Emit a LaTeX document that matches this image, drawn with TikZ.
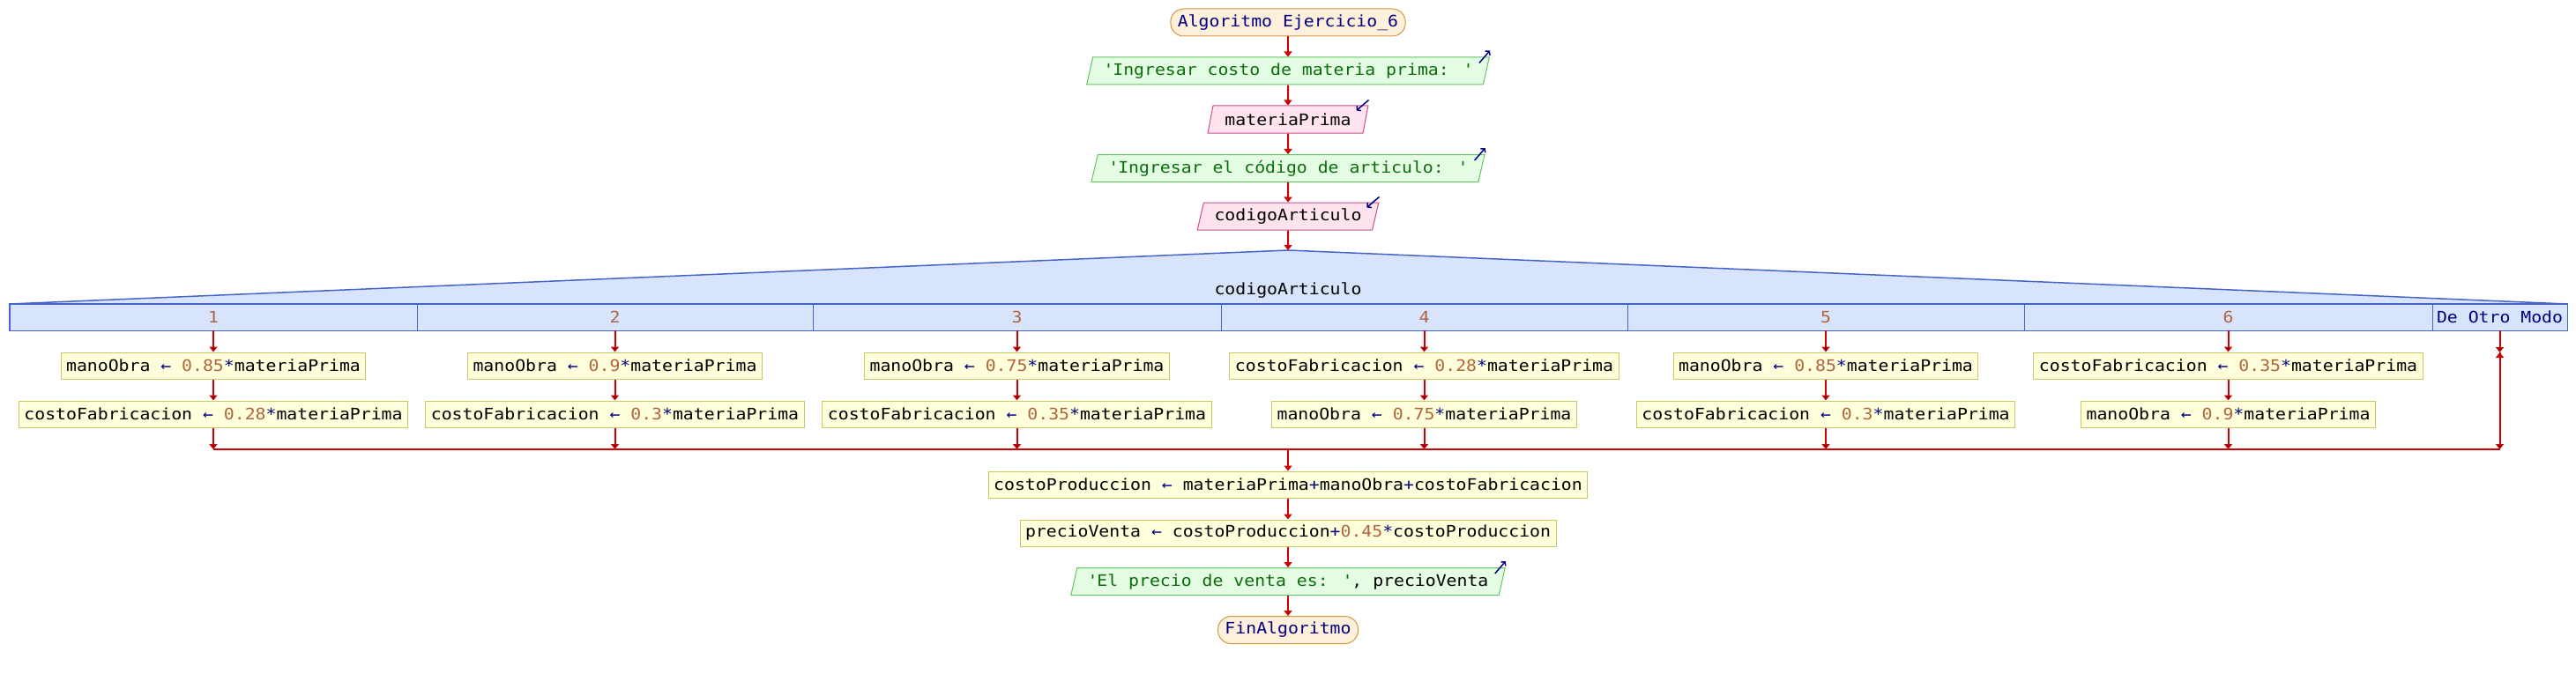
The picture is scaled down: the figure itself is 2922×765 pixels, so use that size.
\documentclass[tikz,border=0pt]{standalone}
\usepackage{fontspec}
\newfontfamily\pseint[FakeStretch=1.1]{DejaVu Sans Mono}
\usetikzlibrary{shapes.geometric,arrows.meta}

\definecolor{rojo}{HTML}{CC0000}
\definecolor{azul}{HTML}{000080}
\definecolor{numero}{HTML}{B0643C}
\definecolor{verde}{HTML}{0A6E0A}
\definecolor{procFondo}{HTML}{FFFFDC}
\definecolor{procBorde}{HTML}{C8C864}
\definecolor{salFondo}{HTML}{E4FCE4}
\definecolor{salBorde}{HTML}{64C464}
\definecolor{entFondo}{HTML}{FFE4F0}
\definecolor{entBorde}{HTML}{C8508C}
\definecolor{segFondo}{HTML}{D8E4FC}
\definecolor{segBorde}{HTML}{4664C8}
\definecolor{termFondo}{HTML}{FFF0DC}
\definecolor{termBorde}{HTML}{D2963C}

\newcommand{\asig}{\textcolor{azul}{←}}
\newcommand{\num}[1]{\textcolor{numero}{#1}}
\newcommand{\op}[1]{\textcolor{azul}{#1}}
\newcommand{\cad}[1]{\textcolor{verde}{#1}}
\def\q{\textquotesingle}

\begin{document}
\begin{tikzpicture}[x=1pt,y=-1pt,font=\pseint\fontsize{18}{20}\selectfont,>={Triangle[width=9pt,length=6pt]}]
			\tikzstyle{terminal}=[rectangle,rounded corners=15pt,draw=termBorde,fill=termFondo,line width=1pt,minimum height=31pt,inner xsep=8pt,inner ysep=0pt,text=azul]
			\tikzstyle{proceso}=[rectangle,draw=procBorde,fill=procFondo,line width=1pt,minimum height=30pt,inner xsep=6pt,inner ysep=0pt]
			\tikzstyle{salida}=[trapezium,trapezium stretches=true,trapezium left angle=69,trapezium right angle=111,draw=salBorde,fill=salFondo,line width=1pt,minimum height=31pt,inner xsep=6pt,inner ysep=0pt]
			\tikzstyle{entrada}=[salida,draw=entBorde,fill=entFondo]
			\tikzstyle{caso}=[rectangle,draw=segBorde,fill=segFondo,line width=0.8pt,minimum height=30pt,inner sep=0pt,text=numero]
			\tikzstyle{flecha}=[->,draw=rojo,line width=2pt]
			\tikzstyle{marca}=[draw=azul,line width=1.5pt,-{Straight Barb[length=3pt,width=7pt]}]
			\def\eje{1461}
			\useasboundingbox (0,0) rectangle (2922,765);
			% secuencia inicial
			\node[terminal](inicio) at (\eje,25.5){Algoritmo Ejercicio\_6};
			\node[salida,minimum width=458pt](s1) at (\eje,80.5){\cad{\q Ingresar costo de materia prima: \q}};
			\node[entrada,minimum width=182pt](e1) at (\eje,135.5){materiaPrima};
			\node[salida,minimum width=447pt](s2) at (\eje,191){\cad{\q Ingresar el código de articulo: \q}};
			\node[entrada,minimum width=206pt](e2) at (\eje,245.5){codigoArticulo};
			\draw[flecha] (inicio) -- (s1);
			\draw[flecha] (s1) -- (e1);
			\draw[flecha] (e1) -- (s2);
			\draw[flecha] (s2) -- (e2);
			\draw[marca] ([shift={(-12pt,-7pt)}]s1.top right corner) -- ([shift={(0pt,7pt)}]s1.top right corner);
			\draw[marca] ([shift={(-12pt,-7pt)}]s2.top right corner) -- ([shift={(0pt,7pt)}]s2.top right corner);
			\draw[marca] ([shift={(0pt,6pt)}]e1.top right corner) -- ([shift={(-14pt,-6pt)}]e1.top right corner);
			\draw[marca] ([shift={(0pt,6pt)}]e2.top right corner) -- ([shift={(-14pt,-6pt)}]e2.top right corner);
			% segun
			\coordinate (vertice) at (\eje,284);
			\draw[draw=segBorde,fill=segFondo,line width=1.5pt] (11,345) -- (vertice) -- (2912,345) -- cycle;
			\node[] (variable) at (\eje,330){codigoArticulo};
			\draw[flecha] (e2) -- (vertice);
			\node[caso,minimum width=462pt](c1) at (242,360){1};
			\node[caso,minimum width=449pt](c2) at (697.5,360){2};
			\node[caso,minimum width=463pt](c3) at (1153.5,360){3};
			\node[caso,minimum width=461pt](c4) at (1615.5,360){4};
			\node[caso,minimum width=450pt](c5) at (2071,360){5};
			\node[caso,minimum width=463pt](c6) at (2527.5,360){6};
			\node[caso,minimum width=153pt,text=azul](c7) at (2835.5,360){De Otro Modo};
			\draw[segBorde,line width=1.5pt] (c1.north west) rectangle (c7.south east);
			% ramas
			\node[proceso](a1) at (242,415){manoObra \asig{} \num{0.85}\op{*}materiaPrima};
			\node[proceso](b1) at (242,470){costoFabricacion \asig{} \num{0.28}\op{*}materiaPrima};
			\node[proceso](a2) at (697.5,415){manoObra \asig{} \num{0.9}\op{*}materiaPrima};
			\node[proceso](b2) at (697.5,470){costoFabricacion \asig{} \num{0.3}\op{*}materiaPrima};
			\node[proceso](a3) at (1153.5,415){manoObra \asig{} \num{0.75}\op{*}materiaPrima};
			\node[proceso](b3) at (1153.5,470){costoFabricacion \asig{} \num{0.35}\op{*}materiaPrima};
			\node[proceso](a4) at (1615.5,415){costoFabricacion \asig{} \num{0.28}\op{*}materiaPrima};
			\node[proceso](b4) at (1615.5,470){manoObra \asig{} \num{0.75}\op{*}materiaPrima};
			\node[proceso](a5) at (2071,415){manoObra \asig{} \num{0.85}\op{*}materiaPrima};
			\node[proceso](b5) at (2071,470){costoFabricacion \asig{} \num{0.3}\op{*}materiaPrima};
			\node[proceso](a6) at (2527.5,415){costoFabricacion \asig{} \num{0.35}\op{*}materiaPrima};
			\node[proceso](b6) at (2527.5,470){manoObra \asig{} \num{0.9}\op{*}materiaPrima};
			\coordinate (union) at (\eje,510);
			\coordinate (pasa) at (2835.5,400);
			\draw[draw=rojo,line width=2pt] (b1.south |- union) -- (c7.south |- union);
			\path[flecha] (c1) edge (a1) (a1) edge (b1) (b1) edge (b1 |- union)
			(c2) edge (a2) (a2) edge (b2) (b2) edge (b2 |- union)
			(c3) edge (a3) (a3) edge (b3) (b3) edge (b3 |- union)
			(c4) edge (a4) (a4) edge (b4) (b4) edge (b4 |- union)
			(c5) edge (a5) (a5) edge (b5) (b5) edge (b5 |- union)
			(c6) edge (a6) (a6) edge (b6) (b6) edge (b6 |- union)
			(c7) edge (pasa) (pasa) edge (c7 |- union);
			% secuencia final
			\node[proceso](p1) at (\eje,550){costoProduccion \asig{} materiaPrima\op{+}manoObra\op{+}costoFabricacion};
			\node[proceso](p2) at (\eje,605){precioVenta \asig{} costoProduccion\op{+}\num{0.45}\op{*}costoProduccion};
			\node[salida,minimum width=494pt](s3) at (\eje,660){\cad{\q El precio de venta es: \q}, precioVenta};
			\node[terminal](fin) at (\eje,715){FinAlgoritmo};
			\draw[marca] ([shift={(-12pt,-7pt)}]s3.top right corner) -- ([shift={(0pt,7pt)}]s3.top right corner);
			\draw[flecha] (union) -- (p1);
			\draw[flecha] (p1) -- (p2);
			\draw[flecha] (p2) -- (s3);
			\draw[flecha] (s3) -- (fin);
\end{tikzpicture}
\end{document}
